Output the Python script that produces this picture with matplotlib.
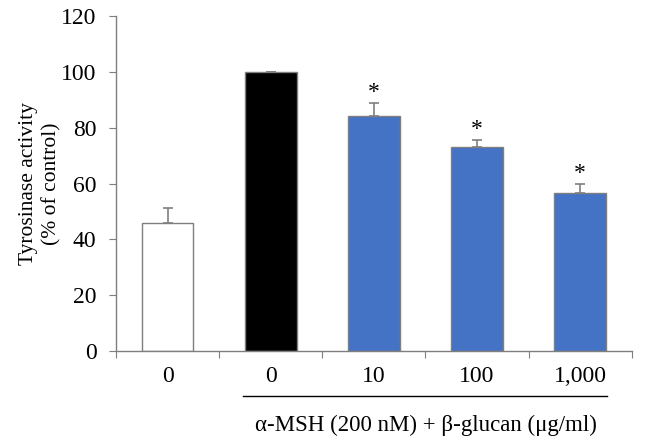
import matplotlib.pyplot as plt
import matplotlib.transforms as mtransforms

groups = ['0', '0', '10', '100', '1,000']
activity = [45.7, 100.0, 84.3, 73.1, 56.7]
sem = [5.5, 0.0, 4.7, 2.6, 3.1]
signif = ['', '', '*', '*', '*']
colors = ['white', 'black', '#4472C4', '#4472C4', '#4472C4']

plt.rcParams['font.family'] = ['Liberation Serif', 'DejaVu Serif']
plt.rcParams['font.size'] = 17

fig = plt.figure(figsize=(6.52, 4.40), dpi=100)
ax = fig.add_axes([0.178, 0.2023, 0.791, 0.7613])

xpos = list(range(len(groups)))
ax.bar(xpos, activity, width=0.5, color=colors, edgecolor='#7f7f7f',
       linewidth=1.0, zorder=2)
ax.errorbar(xpos, activity, yerr=[[0] * len(sem), sem], fmt='none',
            ecolor='#7f7f7f', elinewidth=1.2, capsize=3.5, capthick=1.2,
            zorder=1)
for x, v, e, s in zip(xpos, activity, sem, signif):
    if s:
        ax.annotate(s, (x, v + e), xytext=(0, 0), textcoords='offset points',
                    ha='center', va='bottom', fontsize=17)

ax.set_xlim(-0.5, len(groups) - 0.5)
ax.set_ylim(0, 120)
ax.set_yticks(range(0, 121, 20))
ax.set_xticks([i - 0.5 for i in range(len(groups) + 1)])
ax.set_xticklabels([])
ax.set_xticks(xpos, minor=True)
ax.set_xticklabels(groups, minor=True)
ax.tick_params(axis='x', which='minor', length=0, pad=11, labelsize=17)
ax.tick_params(axis='x', which='major', direction='out', length=5,
               color='#7f7f7f')
ax.tick_params(axis='y', direction='out', length=5, color='#7f7f7f',
               labelsize=17, pad=9)

for side in ['top', 'right']:
    ax.spines[side].set_visible(False)
for side in ['left', 'bottom']:
    ax.spines[side].set_color('#7f7f7f')
    ax.spines[side].set_linewidth(1.0)

ax.set_ylabel('Tyrosinase activity\n(% of control)', fontsize=15.5,
              labelpad=0, linespacing=1.25)

# group bracket under treated bars
trans = mtransforms.blended_transform_factory(ax.transData, ax.transAxes)
ax.plot([0.73, 4.26], [-0.134, -0.134], transform=trans, color='black',
        linewidth=1.0, clip_on=False)
ax.text(2.5, -0.221, 'α-MSH (200 nM) + β-glucan (μg/ml)', transform=trans,
        ha='center', va='center', fontsize=16.5)

fig.savefig('out.png', dpi=100)
